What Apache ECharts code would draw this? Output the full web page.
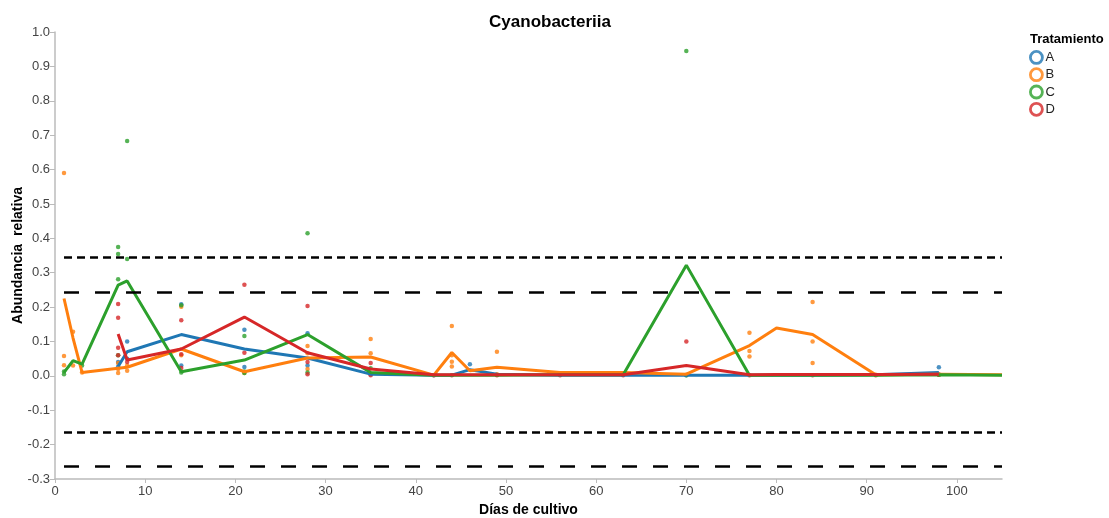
<!DOCTYPE html>
<html>
<head>
<meta charset="utf-8">
<script src="https://cdn.jsdelivr.net/npm/echarts@6/dist/echarts.min.js"></script>
<style>
  html, body { margin: 0; padding: 0; background: #fff; }
  #chart { width: 1109px; height: 518px; }
</style>
</head>
<body>
<div id="chart"></div>
<script>
// Sampling days (x) shared by the mean lines
const days = [1, 2, 3, 7, 8, 14, 21, 28, 35, 42, 44, 46, 49, 56, 63, 70, 77, 80, 84, 91, 98, 105];

// Mean relative abundance per treatment (null where no line is drawn)
const meanA = [null, null, null, 0.027, 0.07, 0.12, 0.078, 0.052, 0.005, 0.002, 0.002, 0.018, 0.005, 0.002, 0.002, 0.002, 0.002, 0.002, 0.002, 0.003, 0.01, null];
const meanB = [0.225, 0.11, 0.01, 0.022, 0.025, 0.078, 0.012, 0.052, 0.055, 0.002, 0.068, 0.015, 0.025, 0.01, 0.01, 0.005, 0.088, 0.139, 0.12, 0.003, 0.005, 0.003];
const meanC = [0.01, 0.044, 0.034, 0.264, 0.276, 0.012, 0.046, 0.12, 0.01, 0.002, 0.002, 0.002, 0.002, 0.003, 0.003, 0.322, 0.002, 0.002, 0.002, 0.002, 0.003, 0.002];
const meanD = [null, null, null, 0.122, 0.046, 0.078, 0.171, 0.067, 0.02, 0.003, 0.003, 0.003, 0.003, 0.003, 0.003, 0.03, 0.003, 0.004, 0.004, 0.004, 0.005, null];

// Individual replicate observations [day, abundance]
const pointsA = [[7, 0.027], [7, 0.04], [8, 0.1], [8, 0.05], [14, 0.208], [14, 0.03], [21, 0.134], [21, 0.026], [28, 0.124], [28, 0.03], [35, 0.005], [42, 0.002], [46, 0.034], [49, 0.003], [70, 0.002], [98, 0.025]];
const pointsB = [[1, 0.59], [1, 0.058], [1, 0.031], [2, 0.128], [2, 0.03], [3, 0.01], [7, 0.008], [7, 0.037], [7, 0.02], [8, 0.015], [8, 0.03], [14, 0.201], [14, 0.06], [21, 0.008], [28, 0.087], [28, 0.066], [28, 0.02], [35, 0.107], [35, 0.066], [44, 0.145], [44, 0.06], [44, 0.041], [44, 0.027], [49, 0.07], [49, 0.005], [56, 0.005], [63, 0.005], [70, 0.003], [77, 0.125], [77, 0.072], [77, 0.056], [84, 0.215], [84, 0.1], [84, 0.037], [91, 0.003], [98, 0.003]];
const pointsC = [[1, 0.013], [1, 0.005], [3, 0.03], [7, 0.375], [7, 0.354], [7, 0.281], [7, 0.06], [8, 0.34], [8, 0.683], [14, 0.205], [14, 0.01], [21, 0.116], [21, 0.013], [21, 0.008], [28, 0.415], [28, 0.01], [35, 0.022], [70, 0.945], [70, 0.002], [98, 0.003]];
const pointsD = [[7, 0.209], [7, 0.169], [7, 0.082], [7, 0.06], [8, 0.04], [14, 0.162], [14, 0.063], [14, 0.023], [21, 0.265], [21, 0.067], [28, 0.203], [28, 0.04], [28, 0.005], [35, 0.037], [35, 0.002], [42, 0.002], [44, 0.002], [49, 0.002], [56, 0.002], [63, 0.002], [70, 0.1], [77, 0.002], [84, 0.002], [91, 0.002], [98, 0.004]];

// Reference thresholds (horizontal dashed lines)
const thresholdsShort = [0.345, -0.164];
const thresholdsLong = [0.243, -0.263];

const treatments = ['A', 'B', 'C', 'D'];
const colors = ['#1f77b4', '#ff7f0e', '#2ca02c', '#d62728'];
const means = [meanA, meanB, meanC, meanD];
const points = [pointsA, pointsB, pointsC, pointsD];

const font = 'Liberation Sans, Arial, sans-serif';

function hLines(values) {
  return values.map(v => [{ coord: [1, v] }, { coord: [105, v] }]);
}

const series = [];
treatments.forEach((t, i) => {
  series.push({
    name: t,
    type: 'scatter',
    data: points[i],
    symbolSize: 4.5,
    itemStyle: { color: colors[i] },
    z: 2,
    silent: true
  });
});
treatments.forEach((t, i) => {
  series.push({
    name: t,
    type: 'line',
    data: days.map((d, k) => [d, means[i][k]]),
    connectNulls: false,
    showSymbol: false,
    symbol: 'none',
    lineStyle: { color: colors[i], width: 3 },
    itemStyle: { color: colors[i] },
    z: 3,
    silent: true
  });
});
// Dashed threshold lines
series.push({
  type: 'line',
  data: [],
  silent: true,
  markLine: {
    symbol: 'none',
    silent: true,
    label: { show: false },
    lineStyle: { color: '#000', width: 2.5, type: [8, 5] },
    data: hLines(thresholdsShort)
  }
});
series.push({
  type: 'line',
  data: [],
  silent: true,
  markLine: {
    symbol: 'none',
    silent: true,
    label: { show: false },
    lineStyle: { color: '#000', width: 2.5, type: [15, 16] },
    data: hLines(thresholdsLong)
  }
});

const chart = echarts.init(document.getElementById('chart'), null, { renderer: 'canvas' });
chart.setOption({
  animation: false,
  backgroundColor: '#fff',
  title: {
    text: 'Cyanobacteriia',
    left: 545,
    textAlign: 'center',
    top: 9,
    textStyle: { fontFamily: font, fontSize: 17, fontWeight: 'bold', color: '#000' }
  },
  graphic: [{
    type: 'text',
    left: 1030,
    top: 33,
    style: { text: 'Tratamiento', font: 'bold 13px ' + font, fill: '#000' }
  }],
  legend: {
    left: 1029,
    top: 50,
    padding: 0,
    orient: 'vertical',
    itemWidth: 12,
    itemHeight: 12,
    itemGap: 2.5,
    textStyle: { fontFamily: font, fontSize: 13, color: '#222', padding: [0, 0, 0, -2] },
    data: treatments.map((t, i) => ({
      name: t,
      icon: 'circle',
      itemStyle: { color: '#fff', borderColor: colors[i], borderWidth: 2.8 }
    }))
  },
  grid: { left: 55, right: 107, top: 32, bottom: 39, containLabel: false, outerBoundsMode: 'none' },
  xAxis: {
    type: 'value',
    min: 0,
    max: 105,
    interval: 10,
    name: 'Días de cultivo',
    nameLocation: 'middle',
    nameGap: 24,
    nameMoveOverlap: false,
    nameTextStyle: { fontFamily: font, fontSize: 14, fontWeight: 'bold', color: '#000' },
    axisLine: { onZero: false, lineStyle: { color: '#bbb', width: 1.5 } },
    axisTick: { show: true, length: 4, lineStyle: { color: '#bbb' } },
    axisLabel: { showMaxLabel: false, fontFamily: font, fontSize: 13, color: '#444', margin: 6 },
    splitLine: { show: false }
  },
  yAxis: {
    type: 'value',
    min: -0.3,
    max: 1.0,
    interval: 0.1,
    name: 'Abundancia  relativa',
    nameLocation: 'middle',
    nameGap: 30,
    nameMoveOverlap: false,
    nameRotate: 90,
    nameTextStyle: { fontFamily: font, fontSize: 14, fontWeight: 'bold', color: '#000' },
    axisLine: { show: true, lineStyle: { color: '#bbb', width: 1.5 } },
    axisTick: { show: true, length: 5, lineStyle: { color: '#bbb' } },
    axisLabel: {
      fontFamily: font, fontSize: 13, color: '#444', margin: 5,
      formatter: v => (Math.round(v * 10) / 10).toFixed(1)
    },
    splitLine: { show: false }
  },
  series: series
});
</script>
</body>
</html>
